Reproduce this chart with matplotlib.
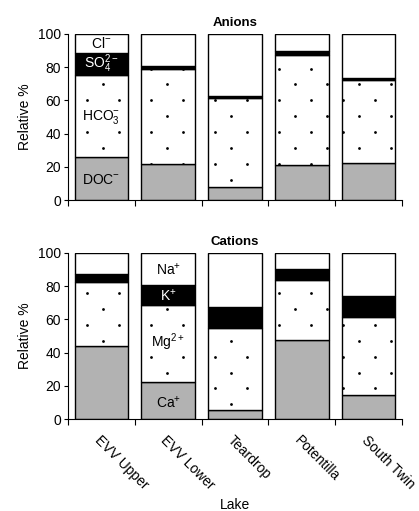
import numpy as np
import matplotlib
matplotlib.use('Agg')
import matplotlib.pyplot as plt

plt.rcParams['font.family'] = ['Liberation Sans', 'DejaVu Sans']
plt.rcParams['mathtext.fontset'] = 'custom'
plt.rcParams['mathtext.rm'] = 'Liberation Sans'
plt.rcParams['mathtext.it'] = 'Liberation Sans:italic'
plt.rcParams['mathtext.bf'] = 'Liberation Sans:bold'

lakes = ['EVV Upper', 'EVV Lower', 'Teardrop', 'Potentilla', 'South Twin']

# anions, relative %
doc = [26.0, 21.6, 7.6, 21.0, 22.0]
hco3 = [49.0, 57.2, 54.0, 66.2, 50.5]
so4 = [13.6, 2.2, 1.0, 2.6, 0.8]

# cations, relative %
ca = [44.2, 22.0, 5.2, 47.6, 14.2]
mg = [38.2, 46.4, 49.8, 36.4, 47.4]
k = [5.2, 12.2, 12.2, 6.2, 12.2]

GREY = '#b2b2b2'


def add_dots(ax, bars, row0):
    '''
    Sparse dot texture, clipped to each bar
    '''
    xs_a = np.arange(0.02 - 0.96, 5, 0.48)
    xs_b = xs_a - 0.24
    ys_a = np.arange(row0, 100, 19.2)
    ys_b = np.arange(row0 + 9.6 - 19.2, 100, 19.2)
    gx_a, gy_a = np.meshgrid(xs_a, ys_a)
    gx_b, gy_b = np.meshgrid(xs_b, ys_b)
    px = np.concatenate([gx_a.ravel(), gx_b.ravel()])
    py = np.concatenate([gy_a.ravel(), gy_b.ravel()])
    for b in bars:
        sc = ax.scatter(px, py, s=4, color='black', linewidths=0, zorder=3)
        sc.set_clip_path(b)


def stacked(ax, layers, row0):
    x = np.arange(len(lakes))
    bottom = np.zeros(len(lakes))
    for vals, col, dotted in layers:
        vals = np.asarray(vals)
        bars = ax.bar(x, vals, 0.8, bottom=bottom, color=col,
                      edgecolor='black', linewidth=1.0, zorder=2)
        if dotted:
            add_dots(ax, bars, row0)
        bottom = bottom + vals
    # remainder to 100 %
    ax.bar(x, 100 - bottom, 0.8, bottom=bottom, color='white',
           edgecolor='black', linewidth=1.0, zorder=2)


def style(ax, labels):
    ax.set_xlim(-0.5, 4.5)
    ax.set_ylim(0, 100)
    ax.set_yticks(range(0, 101, 20))
    ax.tick_params(axis='y', labelsize=10, length=3, width=0.8, pad=2)
    ax.set_xticks(np.arange(-0.5, 5, 1), minor=True)
    ax.tick_params(axis='x', which='minor', length=4, width=0.8)
    ax.set_xticks(np.arange(len(lakes)))
    if labels:
        ax.set_xticklabels(lakes, rotation=-45, ha='left',
                           rotation_mode='anchor', fontsize=10)
        ax.tick_params(axis='x', which='major', length=0, pad=10)
    else:
        ax.set_xticklabels([])
        ax.tick_params(axis='x', which='major', length=0)
    for s in ['top', 'right']:
        ax.spines[s].set_visible(False)
    ax.spines['left'].set_linewidth(0.8)
    ax.spines['bottom'].set_linewidth(0.8)
    ax.set_ylabel('Relative %', fontsize=10, labelpad=4)


fig = plt.figure(figsize=(4.19, 5.11), dpi=100)
ax1 = fig.add_axes([0.1623, 0.6086, 0.7971, 0.3249])
ax2 = fig.add_axes([0.1623, 0.1800, 0.7971, 0.3249])

stacked(ax1, [(doc, GREY, False), (hco3, 'white', True), (so4, 'black', False)], 12.0)
stacked(ax2, [(ca, GREY, False), (mg, 'white', True), (k, 'black', False)], 8.8)

style(ax1, False)
style(ax2, True)
ax1.set_title('Anions', fontsize=9.5, fontweight='bold', pad=6)
ax2.set_title('Cations', fontsize=9.5, fontweight='bold', pad=6)
ax2.set_xlabel('Lake', fontsize=10, labelpad=4)

# ion names inside the first bars
kw = dict(ha='center', va='center', fontsize=10, zorder=4)
box = dict(facecolor='white', edgecolor='none', pad=1)
ax1.text(0, 94, r'Cl$^{-}$', **kw)
ax1.text(0, 82, r'SO$_4^{2-}$', color='white', **kw)
ax1.text(0, 50, r'HCO$_3^{-}$', bbox=box, **kw)
ax1.text(0, 12, r'DOC$^{-}$', **kw)
ax2.text(1, 90, r'Na$^{+}$', **kw)
ax2.text(1, 74.6, r'K$^{+}$', color='white', **kw)
ax2.text(1, 46, r'Mg$^{2+}$', bbox=box, **kw)
ax2.text(1, 10, r'Ca$^{+}$', **kw)

fig.savefig('out.png', dpi=100)
